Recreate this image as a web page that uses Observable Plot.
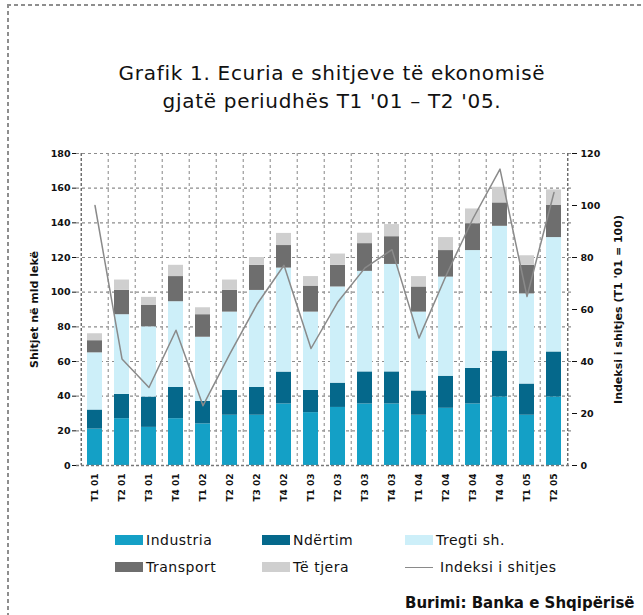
<!DOCTYPE html>
<html>
<head>
<meta charset="utf-8">
<script src="https://cdn.jsdelivr.net/npm/d3@7"></script>
<script src="https://cdn.jsdelivr.net/npm/@observablehq/plot@0.6"></script>
<style>
  html, body { margin: 0; padding: 0; background: #fff; }
  body { width: 643px; height: 615px; position: relative; overflow: hidden; font-family: "DejaVu Sans", sans-serif; }
  #frameL { position: absolute; left: 7px; top: 4px; width: 2px; height: 620px;
    background: repeating-linear-gradient(to bottom, #8e8e8e 0 4px, transparent 4px 7px); }
  #frameT { position: absolute; left: 7px; top: 4px; height: 2px; width: 640px;
    background: repeating-linear-gradient(to right, #8e8e8e 0 4px, transparent 4px 7px); }
  #title { position: absolute; left: 0; top: 59px; width: 664px; text-align: center;
    font-size: 20px; line-height: 28px; color: #111; letter-spacing: 0.7px; }
  #chart { position: absolute; left: 0; top: 130px; }
  .leg { position: absolute; font-size: 14px; letter-spacing: 0.5px; color: #111; display: flex; align-items: center; white-space: nowrap; }
  .sw { width: 28px; height: 10px; margin-right: 3px; }
  .ln { width: 28px; height: 0; border-top: 1.5px solid #8c8c8c; margin-right: 7px; }
  #source { position: absolute; left: 405px; top: 594px; font-size: 15px; font-weight: bold; color: #111; white-space: nowrap; }
</style>
</head>
<body>
<div id="frameL"></div>
<div id="frameT"></div>
<div id="title">Grafik 1. Ecuria e shitjeve të ekonomisë<br>gjatë periudhës T1 '01 – T2 '05.</div>
<div id="chart"></div>
<div id="legend"></div>
<div id="source">Burimi: Banka e Shqipërisë</div>
<script>
const quarters = ["T1 01","T2 01","T3 01","T4 01","T1 02","T2 02","T3 02","T4 02","T1 03","T2 03","T3 03","T4 03","T1 04","T2 04","T3 04","T4 04","T1 05","T2 05"];
const sectors = ["Industria","Ndërtim","Tregti sh.","Transport","Të tjera"];
const industria = [21,27,22,27,24,29,29,35.5,30.5,33.5,35.5,35.5,29,33,35.5,39.5,29,39.5];
const ndertim   = [11,14,17.5,18,13,14.3,16,18.4,12.8,14,18.5,18.5,14,18.5,20.5,26.5,18,26];
const tregti    = [33,46,40.5,49.5,37,45.2,56,60,45.2,55.5,58,62,45.5,57.2,68,72,52,66];
const transport = [7,14,12.5,14.5,13,12.5,14.5,13,15,12.5,16,16,14.5,15.3,15.5,13.5,16.5,18.5];
const teTjera   = [4,6,4.5,6.5,4,6,4.5,7,5.5,6.5,6,7,6,7.5,8.5,9,5.5,9];
const indeksi   = [100,41,30,52,23,43,62,77,45,63,76,83,49,73,95,114,65,105];
const leftTicks = [0,20,40,60,80,100,120,140,160,180];
const rightTicks = [0,20,40,60,80,100,120];
const indexLabel = "Indeksi i shitjes";

const colors = ["#14a0c6","#05688b","#cdeff9","#6e6e6e","#cfcfcf"];
const lineColor = "#8a8a8a";

const series = [industria, ndertim, tregti, transport, teTjera];
const rows = [];
quarters.forEach((q, i) => sectors.forEach((s, j) => rows.push({quarter: q, sector: s, value: series[j][i]})));
const ratio = 180 / 120; // right axis (0–120) mapped onto left axis (0–180)
const lineRows = quarters.map((q, i) => ({quarter: q, idx: indeksi[i] * ratio}));

const W = 643, H = 400, ML = 76, MR = 72, MT = 23, MB = 65;
const step = (W - ML - MR) / quarters.length;

const chart = Plot.plot({
  width: W, height: H,
  marginLeft: ML, marginRight: MR, marginTop: MT, marginBottom: MB,
  style: {fontFamily: "DejaVu Sans, sans-serif", color: "#111", background: "transparent"},
  x: {domain: quarters, paddingInner: 0.45, paddingOuter: 0.225, label: null},
  y: {domain: [0, 180], label: null},
  color: {domain: sectors, range: colors},
  marks: [
    Plot.gridY(leftTicks.slice(1), {stroke: "#8c8c8c", strokeOpacity: 1, strokeDasharray: "3,3", strokeWidth: 1.2}),
    Plot.ruleX(quarters.slice(1), {x: d => d, dx: -step / 2, stroke: "#9a9a9a", strokeDasharray: "3,3", strokeWidth: 1.2}),
    Plot.ruleX([quarters[0]], {x: d => d, dx: -step / 2, stroke: "#666", strokeDasharray: "3,2", strokeWidth: 1.4}),
    Plot.ruleX([quarters[quarters.length - 1]], {x: d => d, dx: step / 2, stroke: "#666", strokeDasharray: "3,2", strokeWidth: 1.4}),
    Plot.barY(rows, Plot.stackY({x: "quarter", y: "value", fill: "sector", order: sectors})),
    Plot.ruleY([0], {stroke: "#777", strokeDasharray: "3,2", strokeWidth: 1.4}),
    Plot.line(lineRows, {x: "quarter", y: "idx", stroke: lineColor, strokeWidth: 1.5}),
    Plot.axisY(leftTicks, {anchor: "left", tickSize: 4, tickPadding: 2, fontSize: 9.5, fontWeight: "bold",
      label: "Shitjet në mld lekë", labelAnchor: "center", labelArrow: "none", labelOffset: 46}),
    Plot.axisY(rightTicks.map(d => d * ratio), {anchor: "right", tickSize: 5, tickPadding: 4, fontSize: 9.5, fontWeight: "bold",
      tickFormat: d => Math.round(d / ratio),
      label: "Indeksi i shitjes (T1 '01 = 100)", labelAnchor: "center", labelArrow: "none", labelOffset: 50}),
    Plot.axisX({tickRotate: -90, tickSize: 0, tickPadding: 8, fontSize: 9, fontWeight: "bold", label: null})
  ]
});
chart.querySelectorAll('[aria-label="y-axis label"] text').forEach(t => { t.setAttribute("font-size", "11"); t.setAttribute("font-weight", "bold"); });
document.getElementById("chart").appendChild(chart);

// legend
const legend = document.getElementById("legend");
const pos = [[115, 532], [262, 532], [405, 532], [115, 559], [262, 559], [405, 559]];
sectors.concat([indexLabel]).forEach((name, i) => {
  const d = document.createElement("div");
  d.className = "leg";
  d.style.left = pos[i][0] + "px";
  d.style.top = pos[i][1] + "px";
  const s = document.createElement("span");
  if (i < sectors.length) { s.className = "sw"; s.style.background = colors[i]; }
  else { s.className = "ln"; s.style.borderTopColor = lineColor; }
  d.appendChild(s);
  d.appendChild(document.createTextNode(name));
  legend.appendChild(d);
});
</script>
</body>
</html>
